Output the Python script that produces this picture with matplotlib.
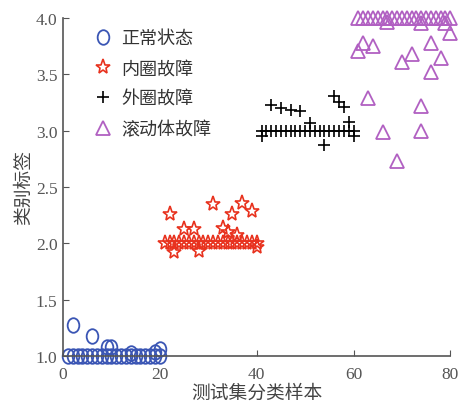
import matplotlib.pyplot as plt
from matplotlib.path import Path
from matplotlib.transforms import Affine2D

plt.rcParams['font.family'] = ['Liberation Serif', 'Noto Sans CJK SC']

# sample index / predicted label for each class
normal_x = list(range(1, 21)) + [2, 6, 9, 10, 14, 19, 20]
normal_y = [1.0] * 20 + [1.28, 1.18, 1.08, 1.08, 1.03, 1.04, 1.06]

inner_x = list(range(21, 41)) + [22, 23, 25, 27, 28, 31, 33, 34, 35, 36, 37, 39, 40]
inner_y = [2.0] * 20 + [2.26, 1.92, 2.13, 2.13, 1.93, 2.35, 2.14, 2.10, 2.26, 2.07, 2.36, 2.29, 1.97]

outer_x = list(range(41, 61)) + [41, 43, 45, 47, 49, 51, 54, 56, 57, 58, 59, 60]
outer_y = [3.0] * 20 + [2.95, 3.23, 3.20, 3.18, 3.17, 3.07, 2.87, 3.31, 3.25, 3.21, 3.08, 2.95]

ball_x = list(range(61, 81)) + [61, 62, 63, 64, 66, 67, 69, 70, 72, 74, 74, 74, 76, 76, 78, 79, 80]
ball_y = [4.0] * 20 + [3.71, 3.78, 3.29, 3.75, 2.99, 3.96, 2.73, 3.61, 3.68, 3.95, 3.22, 3.00,
                       3.52, 3.78, 3.64, 3.95, 3.87]

labels = ['正常状态', '内圈故障', '外圈故障', '滚动体故障']

ellipse = Path.unit_circle().transformed(Affine2D().scale(0.8, 1.0))

fig = plt.figure(figsize=(4.6, 4.1), dpi=100)
ax = fig.add_axes([0.137, 0.129, 0.842, 0.825])

ax.plot(normal_x, normal_y, ls='none', marker=ellipse, ms=10.5, mfc='none',
        mec='#3a55b4', mew=1.3, clip_on=False, label=labels[0])
ax.plot(inner_x, inner_y, ls='none', marker='*', ms=11, mfc='none',
        mec='#e8321e', mew=1.2, clip_on=False, label=labels[1])
ax.plot(outer_x, outer_y, ls='none', marker='+', ms=9, mec='black',
        mew=1.2, clip_on=False, label=labels[2])
ax.plot(ball_x, ball_y, ls='none', marker='^', ms=10, mfc='none',
        mec='#b160c2', mew=1.3, clip_on=False, label=labels[3])

ax.set_xlim(0, 80)
ax.set_ylim(1.0, 4.0)
ax.set_xticks([0, 20, 40, 60, 80])
ax.set_yticks([1.0, 1.5, 2.0, 2.5, 3.0, 3.5, 4.0])
ax.set_yticklabels(['1.0', '1.5', '2.0', '2.5', '3.0', '3.5', '4.0'])
for s in ['top', 'right']:
    ax.spines[s].set_visible(False)
for s in ['left', 'bottom']:
    ax.spines[s].set_color('#555555')
    ax.spines[s].set_linewidth(1.2)
ax.tick_params(direction='in', length=4, color='#555555', labelsize=12.5,
               labelcolor='#555555')
ax.tick_params(axis='x', pad=7)
ax.tick_params(axis='y', pad=4)

ax.set_xlabel('测试集分类样本', fontsize=13.5, color='#444444',
              family=['Noto Sans CJK SC'], labelpad=0)
ax.set_ylabel('类别标签', fontsize=13.5, color='#444444',
              family=['Noto Sans CJK SC'], labelpad=1)

leg = ax.legend(loc='upper left', bbox_to_anchor=(0.03, 1.015), frameon=False,
                prop={'family': 'Noto Sans CJK SC', 'size': 13},
                handletextpad=0.4, labelspacing=0.68, handlelength=1.3)
for t in leg.get_texts():
    t.set_color('#333333')

fig.savefig('out.png', dpi=100)
